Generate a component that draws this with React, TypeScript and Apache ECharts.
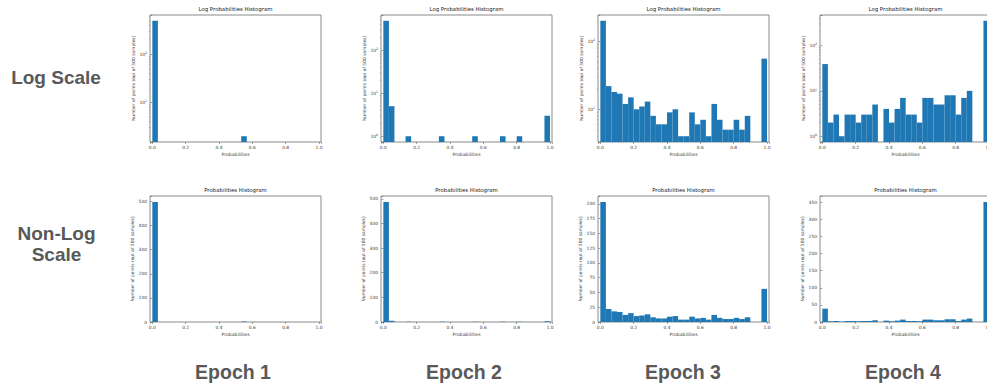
import React, { useEffect, useRef } from "react";
import * as echarts from "echarts";

// ---- labels ----
const EPOCH_LABELS = ["Epoch 1", "Epoch 2", "Epoch 3", "Epoch 4"];
const ROW_LABELS = ["Log Scale", "Non-Log\nScale"];
const LOG_TITLE = "Log Probabilities Histogram";
const LIN_TITLE = "Probabilities Histogram";
const X_NAME = "Probabilities";
const Y_NAME = "Number of points (out of 500 samples)";

// ---- histogram counts: 30 equal-width bins over [0, 1] ----
const BIN_COUNT = 30;
const EPOCH1_COUNTS = [498, 0, 0, 0, 0, 0, 0, 0, 0, 0, 0, 0, 0, 0, 0, 0, 2, 0, 0, 0, 0, 0, 0, 0, 0, 0, 0, 0, 0, 0];
const EPOCH2_COUNTS = [487, 5, 0, 0, 1, 0, 0, 0, 0, 0, 1, 0, 0, 0, 0, 0, 1, 0, 0, 0, 0, 1, 0, 0, 1, 0, 0, 0, 0, 3];
const EPOCH3_COUNTS = [203, 22, 18, 17, 12, 15, 10, 11, 13, 8, 6, 6, 9, 10, 4, 4, 9, 6, 7, 4, 12, 7, 5, 5, 7, 5, 8, 0, 0, 56];
const EPOCH4_COUNTS = [39, 2, 3, 1, 3, 3, 2, 3, 3, 5, 0, 4, 2, 4, 7, 3, 3, 2, 7, 7, 5, 5, 8, 8, 3, 7, 10, 0, 0, 351];
const ALL_COUNTS = [EPOCH1_COUNTS, EPOCH2_COUNTS, EPOCH3_COUNTS, EPOCH4_COUNTS];

// ---- ticks ----
const X_TICKS = [0, 0.2, 0.4, 0.6, 0.8, 1.0];
const LIN_Y_STEPS = [100, 100, 25, 50];
const LOG_MINOR_TICKS = [2, 3, 4, 5, 6, 7, 8, 9, 20, 30, 40, 50, 60, 70, 80, 90, 200, 300, 400, 500, 600, 700, 800, 900];

// ---- layout ----
const COL_LEFT = [150, 381, 598, 820];
const PLOT_W = 171;
const ROW_TOP = [15, 196];
const ROW_H = [127, 126];
const EPOCH_X = [233, 464, 683, 903];
const EPOCH_Y = 372;
const X_MIN = -0.014;
const X_MAX = 1.012;

const BAR_COLOR = "#1f77b4";
const FRAME = "#8a8a8a";
const TICK_TEXT = "#3a3a3a";
const BIG_TEXT = "#595959";
const MPL_FONT = "DejaVu Sans";

const nearMultiple = (v: number, step: number) => Math.abs(v / step - Math.round(v / step)) < 1e-6;

function histData(counts: number[]) {
  const out: number[][] = [];
  counts.forEach((c, i) => {
    if (c > 0) out.push([i / BIN_COUNT, (i + 1) / BIN_COUNT, c]);
  });
  return out;
}

// matplotlib-style autoscale: 5% margin in log space around the nonzero range
function logLimits(counts: number[]) {
  const nz = counts.filter((c) => c > 0);
  const lo = Math.log10(Math.min(...nz));
  const hi = Math.log10(Math.max(...nz));
  const m = (hi - lo) * 0.05;
  return [Math.pow(10, lo - m), Math.pow(10, hi + m)];
}

function buildOption() {
  const grid: any[] = [];
  const xAxis: any[] = [];
  const yAxis: any[] = [];
  const series: any[] = [];
  const graphic: any[] = [];

  ALL_COUNTS.forEach((counts, col) => {
    [0, 1].forEach((row) => {
      const isLog = row === 0;
      const idx = grid.length;
      const left = COL_LEFT[col];
      const top = ROW_TOP[row];
      const h = ROW_H[row];
      grid.push({
        left,
        top,
        width: PLOT_W,
        height: h,
        show: true,
        borderColor: FRAME,
        borderWidth: 1,
        backgroundColor: "#fff",
        containLabel: false,
        outerBoundsMode: "none",
      });
      xAxis.push({
        type: "value",
        gridIndex: idx,
        min: X_MIN,
        max: X_MAX,
        splitNumber: 5,
        name: X_NAME,
        nameLocation: "middle",
        nameGap: 10,
        nameTextStyle: { fontFamily: MPL_FONT, fontSize: 4.6, color: TICK_TEXT },
        axisLine: { show: false },
        axisTick: { show: true, length: 1.8, lineStyle: { color: "#555", width: 0.6 } },
        splitLine: { show: false },
        axisLabel: {
          fontFamily: MPL_FONT,
          fontSize: 4.4,
          color: TICK_TEXT,
          margin: 3,
          formatter: (v: number) => (X_TICKS.some((t) => Math.abs(t - v) < 1e-6) ? v.toFixed(1) : ""),
        },
      });
      const [logMin, logMax] = logLimits(counts);
      const linMax = Math.max(...counts) * 1.05;
      const yMin = isLog ? logMin : 0;
      if (isLog) {
        yAxis.push({
          type: "log",
          logBase: 10,
          gridIndex: idx,
          min: logMin,
          max: logMax,
          name: Y_NAME,
          nameLocation: "middle",
          nameGap: 12,
          nameRotate: 90,
          nameTextStyle: { fontFamily: MPL_FONT, fontSize: 4.4, color: TICK_TEXT },
          axisLine: { show: false },
          axisTick: { show: true, length: 1.8, lineStyle: { color: "#555", width: 0.6 } },
          splitLine: { show: false },
          axisLabel: {
            fontFamily: MPL_FONT,
            fontSize: 4.4,
            color: TICK_TEXT,
            margin: 3,
            formatter: (v: number) => {
              const e = Math.log10(v);
              return Math.abs(e - Math.round(e)) < 1e-6 ? `10{sup|${Math.round(e)}}` : "";
            },
            rich: { sup: { fontSize: 3.2, fontFamily: MPL_FONT, color: TICK_TEXT, verticalAlign: "top", padding: [0, 0, 3, 0] } },
          },
        });
      } else {
        yAxis.push({
          type: "value",
          gridIndex: idx,
          min: 0,
          max: linMax,
          interval: LIN_Y_STEPS[col],
          name: Y_NAME,
          nameLocation: "middle",
          nameGap: 13,
          nameRotate: 90,
          nameTextStyle: { fontFamily: MPL_FONT, fontSize: 4.4, color: TICK_TEXT },
          axisLine: { show: false },
          axisTick: { show: true, length: 1.8, lineStyle: { color: "#555", width: 0.6 } },
          splitLine: { show: false },
          axisLabel: {
            fontFamily: MPL_FONT,
            fontSize: 4.4,
            color: TICK_TEXT,
            margin: 3,
            formatter: (v: number) => (nearMultiple(v, LIN_Y_STEPS[col]) ? String(Math.round(v)) : ""),
          },
        });
      }

      series.push({
        type: "custom",
        xAxisIndex: idx,
        yAxisIndex: idx,
        clip: true,
        encode: { x: [0, 1], y: 2 },
        data: histData(counts),
        renderItem: (params: any, api: any) => {
          const p0 = api.coord([api.value(0), api.value(2)]);
          const p1 = api.coord([api.value(1), yMin]);
          return {
            type: "rect",
            shape: { x: p0[0], y: p0[1], width: p1[0] - p0[0], height: p1[1] - p0[1] },
            style: { fill: BAR_COLOR },
          };
        },
      });

      if (isLog) {
        series.push({
          type: "custom",
          xAxisIndex: idx,
          yAxisIndex: idx,
          clip: false,
          encode: { y: 0 },
          data: LOG_MINOR_TICKS.filter((t) => t > logMin && t < logMax).map((t) => [t]),
          renderItem: (params: any, api: any) => {
            const p = api.coord([X_MIN, api.value(0)]);
            return {
              type: "line",
              shape: { x1: p[0] - 1.1, y1: p[1], x2: p[0], y2: p[1] },
              style: { stroke: "#666", lineWidth: 0.5 },
            };
          },
        });
      }

      graphic.push({
        type: "text",
        x: left + PLOT_W / 2,
        y: top - 6,
        style: {
          text: isLog ? LOG_TITLE : LIN_TITLE,
          fontFamily: MPL_FONT,
          fontSize: 5.4,
          fill: "#222",
          align: "center",
          verticalAlign: "middle",
        },
      });
    });
  });

  graphic.push({
    type: "text",
    x: 56,
    y: 77,
    style: {
      text: ROW_LABELS[0],
      fontFamily: "Liberation Sans",
      fontWeight: "bold",
      fontSize: 19,
      fill: BIG_TEXT,
      align: "center",
      verticalAlign: "middle",
    },
  });
  graphic.push({
    type: "text",
    x: 56.5,
    y: 243.5,
    style: {
      text: ROW_LABELS[1],
      fontFamily: "Liberation Sans",
      fontWeight: "bold",
      fontSize: 19,
      lineHeight: 21,
      fill: BIG_TEXT,
      align: "center",
      verticalAlign: "middle",
    },
  });
  EPOCH_LABELS.forEach((t, i) => {
    graphic.push({
      type: "text",
      x: EPOCH_X[i],
      y: EPOCH_Y,
      style: {
        text: t,
        fontFamily: "Liberation Sans",
        fontWeight: "bold",
        fontSize: 19.5,
        fill: BIG_TEXT,
        align: "center",
        verticalAlign: "middle",
      },
    });
  });

  return {
    animation: false,
    backgroundColor: "#fff",
    grid,
    xAxis,
    yAxis,
    series,
    graphic,
  };
}

export default function App() {
  const ref = useRef<HTMLDivElement>(null);
  useEffect(() => {
    if (!ref.current) return;
    const chart = echarts.init(ref.current, null, { renderer: "svg" });
    chart.setOption(buildOption() as any);
    return () => chart.dispose();
  }, []);
  return (
    <div
      ref={ref}
      style={{ position: "fixed", left: 0, top: 0, width: 987, height: 389, background: "#fff" }}
    />
  );
}
